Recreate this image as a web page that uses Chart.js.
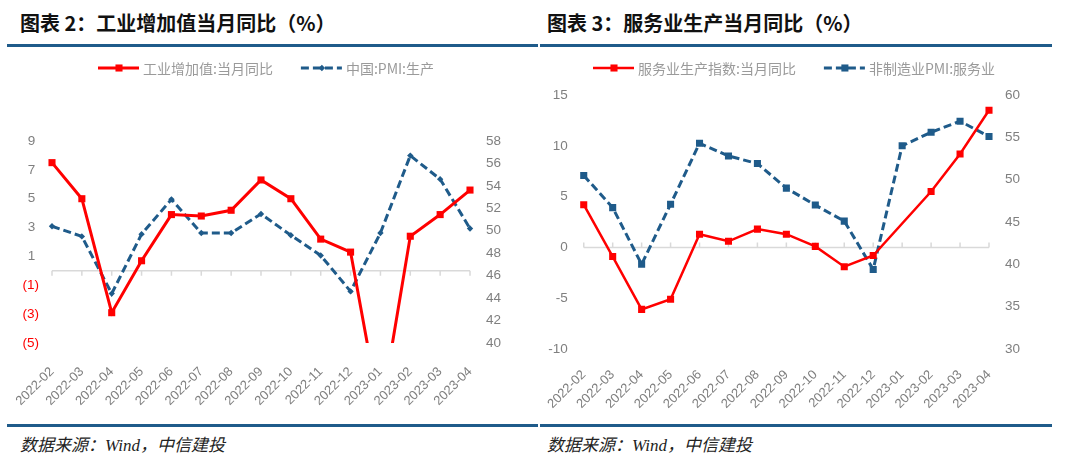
<!DOCTYPE html>
<html>
<head>
<meta charset="utf-8">
<script src="https://cdn.jsdelivr.net/npm/chart.js@4"></script>
<style>
  body { margin: 0; background: #fff; width: 1080px; height: 473px; overflow: hidden; position: relative; }
  .title { position: absolute; top: 8px; font: bold 20px "Noto Sans CJK SC", sans-serif; color: #111; white-space: nowrap; }
  .rule { position: absolute; height: 3px; background: #1f5b8a; }
  .src { position: absolute; top: 431px; font: italic 17px "Liberation Serif", "Noto Sans CJK SC", serif; color: #222; white-space: nowrap; }
  .box { position: absolute; top: 50px; width: 540px; height: 370px; }
</style>
</head>
<body>
<div class="title" style="left:20px">图表 2：工业增加值当月同比（%）</div>
<div class="title" style="left:547px">图表 3：服务业生产当月同比（%）</div>
<div class="rule" style="left:7px; width:531px; top:44px"></div>
<div class="rule" style="left:540px; width:512px; top:44px"></div>
<div class="rule" style="left:7px; width:531px; top:424px"></div>
<div class="rule" style="left:540px; width:512px; top:424px"></div>
<div class="src" style="left:20px">数据来源：Wind，中信建投</div>
<div class="src" style="left:547px">数据来源：Wind，中信建投</div>

<div class="box" style="left:0"><canvas id="c1"></canvas></div>
<div class="box" style="left:540px"><canvas id="c2"></canvas></div>

<script>
// data
const months = ['2022-02', '2022-03', '2022-04', '2022-05', '2022-06', '2022-07', '2022-08', '2022-09',
                '2022-10', '2022-11', '2022-12', '2023-01', '2023-02', '2023-03', '2023-04'];

const ipYoy   = [7.5, 5.0, -2.9, 0.7, 3.9, 3.8, 4.2, 6.3, 5.0, 2.2, 1.3, -10, 2.4, 3.9, 5.6];
const pmiProd = [50.4, 49.5, 44.4, 49.7, 52.8, 49.8, 49.8, 51.5, 49.6, 47.8, 44.6, 49.8, 56.7, 54.6, 50.2];

const svcYoy  = [4.2, -0.9, -6.1, -5.1, 1.3, 0.6, 1.8, 1.3, 0.1, -1.9, -0.8, null, 5.5, 9.2, 13.5];
const svcPmi  = [50.5, 46.7, 40.0, 47.1, 54.3, 52.8, 51.9, 49.0, 47.0, 45.1, 39.4, 54.0, 55.6, 56.9, 55.1];

const ipTicks     = [-5, -3, -1, 1, 3, 5, 7, 9];
const pmiTicks    = [40, 42, 44, 46, 48, 50, 52, 54, 56, 58];
const svcTicks    = [-10, -5, 0, 5, 10, 15];
const svcPmiTicks = [30, 35, 40, 45, 50, 55, 60];

const RED = '#ff0000';
const BLUE = '#1f5b8a';
const GREY = '#7f7f7f';

// light line at y = 0 with small ticks at every month
const zeroLine = {
  id: 'zeroLine',
  beforeDatasetsDraw(chart, args, opts) {
    const ctx = chart.ctx;
    const area = chart.chartArea;
    const xs = chart.scales.x;
    const y = chart.scales.y.getPixelForValue(0);
    ctx.save();
    ctx.strokeStyle = '#d9d9d9';
    ctx.lineWidth = 1.5;
    ctx.beginPath();
    ctx.moveTo(area.left, y);
    ctx.lineTo(area.right, y);
    for (let i = 0; i < xs.ticks.length; i++) {
      let x = xs.getPixelForTick(i);
      ctx.moveTo(x, y);
      ctx.lineTo(x, y + opts.tick);
    }
    ctx.stroke();
    ctx.restore();
  }
};

// legend: short line sample with its marker, then grey text
const lineLegend = {
  id: 'lineLegend',
  afterDraw(chart, args, opts) {
    const ctx = chart.ctx;
    let x = opts.x;
    const y = opts.y;
    ctx.save();
    ctx.font = '14px "Noto Sans CJK SC", sans-serif';
    ctx.textBaseline = 'middle';
    for (let ds of chart.data.datasets) {
      ctx.strokeStyle = ds.borderColor;
      ctx.lineWidth = ds.borderWidth;
      ctx.setLineDash(ds.borderDash || []);
      ctx.beginPath();
      ctx.moveTo(x, y);
      ctx.lineTo(x + 41, y);
      ctx.stroke();
      ctx.setLineDash([]);
      ctx.fillStyle = ds.pointBackgroundColor;
      Chart.helpers.drawPoint(ctx, { pointStyle: ds.pointStyle, radius: ds.pointRadius, borderWidth: 0 }, x + 21, y);
      ctx.fillStyle = '#9a9a9a';
      ctx.fillText(ds.label, x + 45, y + 1);
      x += 45 + ctx.measureText(ds.label).width + 28;
    }
    ctx.restore();
  }
};

function yAxis(pos, ticks, width, pad, color, fmt) {
  return {
    position: pos,
    min: ticks[0],
    max: ticks[ticks.length - 1],
    afterBuildTicks: (s) => { s.ticks = ticks.map(v => ({ value: v })); },
    afterFit: (s) => { s.width = width; },
    grid: { display: false },
    border: { display: false },
    ticks: {
      padding: pad,
      color: color,
      font: { family: 'Liberation Sans, Arial', size: 13.5 },
      callback: fmt || ((v) => String(v))
    }
  };
}

function xAxis(height, pad) {
  return {
    afterFit: (s) => { s.height = height; },
    grid: { display: false },
    border: { display: false },
    ticks: {
      autoSkip: false,
      maxRotation: 45,
      minRotation: 45,
      padding: pad,
      color: GREY,
      font: { family: 'Liberation Sans, Arial', size: 13 }
    }
  };
}

function series(label, data, color, axis, dash, style, radius, width) {
  return {
    label: label,
    data: data,
    yAxisID: axis,
    borderColor: color,
    backgroundColor: color,
    pointBackgroundColor: color,
    pointBorderColor: color,
    pointBorderWidth: 0,
    borderWidth: width,
    borderDash: dash,
    pointStyle: style,
    pointRadius: radius,
    spanGaps: true,
    tension: 0
  };
}

new Chart(document.getElementById('c1'), {
  type: 'line',
  data: {
    labels: months,
    datasets: [
      series('工业增加值:当月同比', ipYoy, RED, 'y', [], 'rect', 5, 3),
      series('中国:PMI:生产', pmiProd, BLUE, 'y1', [8, 4], 'rectRot', 3.2, 3)
    ]
  },
  options: {
    responsive: true,
    maintainAspectRatio: false,
    animation: false,
    layout: { padding: { top: 91, left: 0, right: 0, bottom: 0 } },
    plugins: {
      legend: { display: false },
      tooltip: { enabled: false },
      zeroLine: { tick: 5 },
      lineLegend: { x: 98, y: 18 }
    },
    scales: {
      x: xAxis(77, 13),
      y: yAxis('left', ipTicks, 52, 5, (c) => c.tick.value < 0 ? RED : GREY,
               (v) => v < 0 ? '(' + Math.abs(v) + ')' : v + ' '),
      y1: yAxis('right', pmiTicks, 70, 8, GREY)
    }
  },
  plugins: [zeroLine, lineLegend]
});

new Chart(document.getElementById('c2'), {
  type: 'line',
  data: {
    labels: months,
    datasets: [
      series('服务业生产指数:当月同比', svcYoy, RED, 'y', [], 'rect', 5, 2.5),
      series('非制造业PMI:服务业', svcPmi, BLUE, 'y1', [8, 4], 'rect', 5, 3)
    ]
  },
  options: {
    responsive: true,
    maintainAspectRatio: false,
    animation: false,
    layout: { padding: { top: 45, left: 0, right: 0, bottom: 0 } },
    plugins: {
      legend: { display: false },
      tooltip: { enabled: false },
      zeroLine: { tick: -5 },
      lineLegend: { x: 53, y: 18 }
    },
    scales: {
      x: xAxis(71, 10),
      y: yAxis('left', svcTicks, 43, 8, GREY),
      y1: yAxis('right', svcPmiTicks, 91, 8, GREY)
    }
  },
  plugins: [zeroLine, lineLegend]
});
</script>
</body>
</html>
